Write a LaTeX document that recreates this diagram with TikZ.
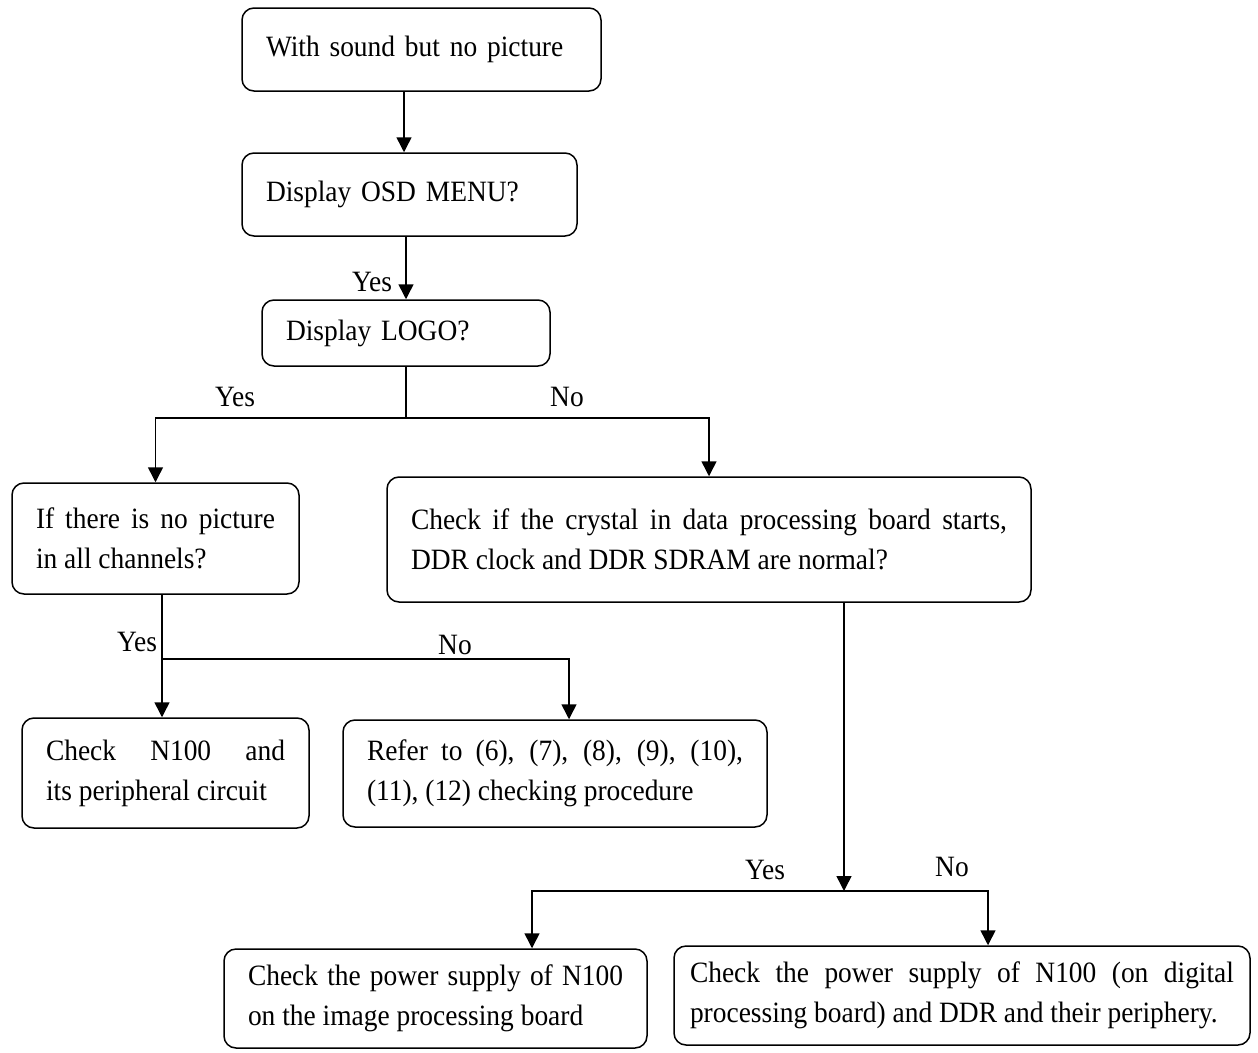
\documentclass[tikz,border=0pt]{standalone}
\usepackage{fontspec}
\setmainfont[FakeStretch=0.93]{Liberation Serif}
\usepackage{tikz}
\usetikzlibrary{positioning}
\usetikzlibrary{arrows.meta}
\usetikzlibrary{calc}
\tikzstyle{line} = [draw, -{Triangle[width=15pt,length=15pt]}]

\begin{document}
\begin{tikzpicture}[x=1pt, y=-1pt, line width=1.5pt,
			internal/.style={draw, rectangle, rounded corners=12pt, inner xsep=24pt, inner ysep=0pt, align=justify},
			every node/.style={font=\fontsize{29.5}{40}\selectfont}]
			\useasboundingbox (0,0) rectangle (1258,1052);

			\node[internal, align=left, text width=311pt, minimum height=83pt](node1) at (421.5, 49.5) {With sound but no picture};
			\node[internal, align=left, text width=287pt, minimum height=83pt](node2) at (409.5, 194.5) {Display OSD MENU?};
			\node[internal, align=left, text width=240pt, minimum height=66pt](node3) at (406, 333) {Display LOGO?};

			\node[internal, text width=239pt, minimum height=111pt](node4) at (155.5, 538.5) {If there is no picture\linebreak in all channels?};
			\node[internal, text width=596pt, minimum height=125pt](node5) at (709, 539.5) {Check if the crystal in data processing board starts,\linebreak DDR clock and DDR SDRAM are normal?};

			\node[internal, text width=239pt, minimum height=110pt](node6) at (165.5, 773) {Check N100 and\linebreak its peripheral circuit};
			\node[internal, text width=376pt, minimum height=107pt](node7) at (555, 773.5) {Refer to (6), (7), (8), (9), (10),\linebreak (11), (12) checking procedure};

			\node[internal, text width=375pt, minimum height=99pt](node8) at (435.5, 998.5) {Check the power supply of N100 on the image processing board};
			\node[internal, inner xsep=16pt, text width=544pt, minimum height=99pt](node9) at (962, 995.5) {Check the power supply of N100 (on digital\linebreak processing board) and DDR and their periphery.};

			\coordinate (j1) at (406, 418);
			\coordinate (j2) at (162, 659);
			\coordinate (j3) at (844, 891);

			\draw[line] ([xshift=-5.5pt]node2.north |- node1.south) -- ([xshift=-5.5pt]node2.north);
			\draw[line] (node3.north |- node2.south) -- (node3.north);
			\node(yes1) at (372, 282) {Yes};

			\draw (node3.south) -- (j1);
			\draw[line] (j1) -| (node4.north);
			\draw[line] (j1) -| (node5.north);
			\node(yes2) at (235, 397) {Yes};
			\node(no2) at (567, 397) {No};

			\draw (node4.south -| j2) -- (j2);
			\draw[line] (j2) -- (node6.north -| j2);
			\draw[line] (j2) -| ([xshift=14pt]node7.north);
			\node(yes3) at (137, 642) {Yes};
			\node(no3) at (455, 645) {No};

			\draw[line] ([xshift=135pt]node5.south) -- (j3);
			\draw[line] (j3) -| ([xshift=96.5pt]node8.north);
			\draw[line] (j3) -| ([xshift=26pt]node9.north);
			\node(yes4) at (765, 870) {Yes};
			\node(no4) at (952, 867) {No};

		\end{tikzpicture}
\end{document}
